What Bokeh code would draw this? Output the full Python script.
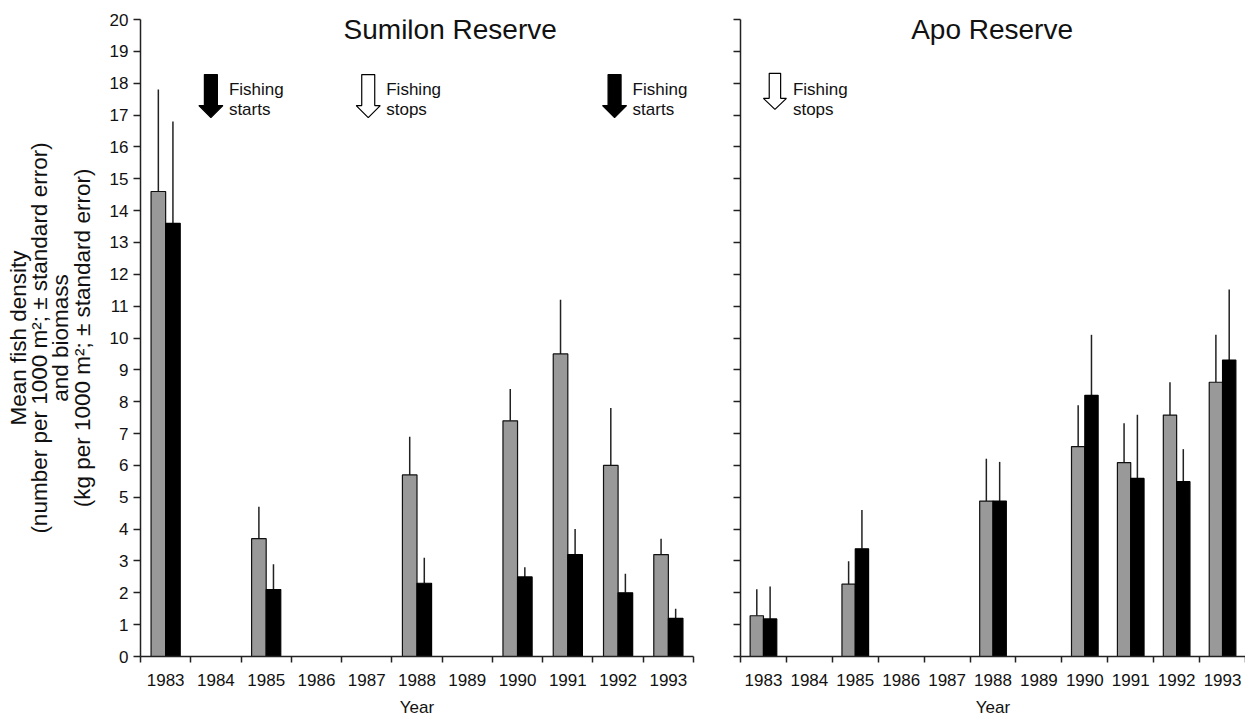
import numpy as np
from bokeh.plotting import figure
from bokeh.layouts import row
from bokeh.models import FixedTicker, Label, ColumnDataSource, Range1d
from bokeh.embed import file_html
from bokeh.resources import INLINE

# ---------------- data ----------------
years = ["1983", "1984", "1985", "1986", "1987", "1988", "1989", "1990", "1991", "1992", "1993"]

sumilon_density    = [14.6, None, 3.7, None, None, 5.7, None, 7.4, 9.5, 6.0, 3.2]
sumilon_density_se = [3.2,  None, 1.0, None, None, 1.2, None, 1.0, 1.7, 1.8, 0.5]
sumilon_biomass    = [13.6, None, 2.1, None, None, 2.3, None, 2.5, 3.2, 2.0, 1.2]
sumilon_biomass_se = [3.2,  None, 0.8, None, None, 0.8, None, 0.3, 0.8, 0.6, 0.3]

apo_density    = [1.28, None, 2.27, None, None, 4.88, None, 6.59, 6.09, 7.58, 8.61]
apo_density_se = [0.83, None, 0.72, None, None, 1.33, None, 1.30, 1.23, 1.03, 1.49]
apo_biomass    = [1.18, None, 3.38, None, None, 4.88, None, 8.20, 5.59, 5.49, 9.31]
apo_biomass_se = [1.02, None, 1.22, None, None, 1.23, None, 1.90, 2.00, 1.02, 2.21]

y_ticks = list(range(0, 21))

# annotations: (x position in category units, filled?, line1, line2)
sumilon_events = [(0.90, True, "Fishing", "starts"),
                  (4.03, False, "Fishing", "stops"),
                  (8.93, True, "Fishing", "starts")]
apo_events = [(0.25, False, "Fishing", "stops")]

FONT = "Liberation Sans"
AX = "#222222"
GRAY = "#999999"
BAR_W = 0.29


def panel(title, title_x, dens, dens_se, bio, bio_se, events, first,
          width, height, bl, br, bt, bb):
    p = figure(width=width, height=height, output_backend="svg", toolbar_location=None,
               x_range=Range1d(-0.5, len(years) - 0.5), y_range=Range1d(0, 20),
               min_border_left=bl, min_border_right=br, min_border_top=bt,
               min_border_bottom=bb)
    fw = width - bl - br
    fh = height - bt - bb
    pxx = len(years) / fw
    pxy = 20.0 / fh

    idx = [i for i, v in enumerate(dens) if v is not None]
    xc = np.array(idx, dtype=float)
    d = np.array([dens[i] for i in idx])
    dse = np.array([dens_se[i] for i in idx])
    b = np.array([bio[i] for i in idx])
    bse = np.array([bio_se[i] for i in idx])
    src = ColumnDataSource(dict(xg=xc - BAR_W / 2, xb=xc + BAR_W / 2, d=d, b=b,
                                de=d + dse, be=b + bse))

    p.segment(x0="xg", y0="d", x1="xg", y1="de", source=src, line_color=AX, line_width=1.5)
    p.segment(x0="xb", y0="b", x1="xb", y1="be", source=src, line_color=AX, line_width=1.5)
    p.vbar(x="xg", top="d", bottom=0, width=BAR_W, source=src,
           fill_color=GRAY, line_color="#111111", line_width=1.2)
    p.vbar(x="xb", top="b", bottom=0, width=BAR_W, source=src,
           fill_color="black", line_color="black", line_width=1.2)

    # arrows
    for (ax, filled, l1, l2) in events:
        if first:
            tip, L, sw, hw, hl = 16.92, 43, 6.5, 12.0, 12.0
        else:
            tip, L, sw, hw, hl = 17.18, 36, 5.7, 11.5, 11.0
        pts = [(-sw, L), (sw, L), (sw, hl), (hw, hl), (0, 0), (-hw, hl), (-sw, hl)]
        xs = [ax + px * pxx for px, _ in pts]
        ys = [tip + py * pxy for _, py in pts]
        p.patch(xs, ys, fill_color="black" if filled else "white",
                line_color="black", line_width=1.2)
        for txt, yy in ((l1, 17.81), (l2, 17.17)):
            p.add_layout(Label(x=ax, y=yy, x_offset=18, text=txt, text_font=FONT,
                               text_font_size="17px", text_color="#111111",
                               text_align="left", text_baseline="alphabetic"))

    p.add_layout(Label(x=title_x, y=19.70, text=title, text_font=FONT,
                       text_font_size="28px", text_color="#111111",
                       text_align="center", text_baseline="alphabetic"))

    p.outline_line_color = None
    p.xgrid.grid_line_color = None
    p.ygrid.grid_line_color = None
    p.background_fill_color = "white"
    p.border_fill_color = "white"

    # x axis: labels at category centres, ticks at category boundaries
    xa = p.xaxis[0]
    xa.ticker = FixedTicker(ticks=list(range(len(years))),
                            minor_ticks=[i - 0.5 for i in range(len(years) + 1)])
    xa.major_label_overrides = {i: y for i, y in enumerate(years)}
    xa.major_tick_line_color = None
    xa.minor_tick_line_color = AX
    xa.minor_tick_line_width = 1.5
    xa.minor_tick_out = 6
    xa.minor_tick_in = 0
    xa.axis_line_color = AX
    xa.axis_line_width = 1.5
    xa.major_label_text_font = FONT
    xa.major_label_text_font_size = "17px"
    xa.major_label_text_color = "#111111"
    xa.major_label_standoff = 11
    xa.axis_label = "Year"
    xa.axis_label_text_font = FONT
    xa.axis_label_text_font_size = "17px"
    xa.axis_label_text_font_style = "normal"
    xa.axis_label_text_color = "#111111"
    xa.axis_label_standoff = 9

    ya = p.yaxis[0]
    ya.ticker = FixedTicker(ticks=y_ticks)
    ya.minor_tick_line_color = None
    ya.major_tick_line_color = AX
    ya.major_tick_line_width = 1.5
    ya.major_tick_out = 7
    ya.major_tick_in = 0
    ya.axis_line_color = AX
    ya.axis_line_width = 1.5
    ya.major_label_text_font = FONT
    ya.major_label_text_font_size = "17px"
    ya.major_label_text_color = "#111111"
    ya.major_label_standoff = 5
    if first:
        ya.axis_label = ("Mean fish density\n(number per 1000 m\u00b2; \u00b1 standard error)\n"
                         "and biomass\n(kg per 1000 m\u00b2; \u00b1 standard error)")
        ya.axis_label_text_font = FONT
        ya.axis_label_text_font_size = "22.5px"
        ya.axis_label_text_font_style = "normal"
        ya.axis_label_text_color = "#111111"
        ya.axis_label_text_line_height = 0.85
        ya.axis_label_standoff = 12
    else:
        ya.major_label_overrides = {t: "" for t in y_ticks}
    return p


H = 722
p1 = panel("Sumilon Reserve", 5.66, sumilon_density, sumilon_density_se,
           sumilon_biomass, sumilon_biomass_se, sumilon_events, True,
           width=710, height=H, bl=140, br=17, bt=19, bb=66)
p2 = panel("Apo Reserve", 4.98, apo_density, apo_density_se,
           apo_biomass, apo_biomass_se, apo_events, False,
           width=535, height=H, bl=30, br=0, bt=19, bb=66)

layout = row(p1, p2)
open("out.html", "w").write(file_html(layout, INLINE))
